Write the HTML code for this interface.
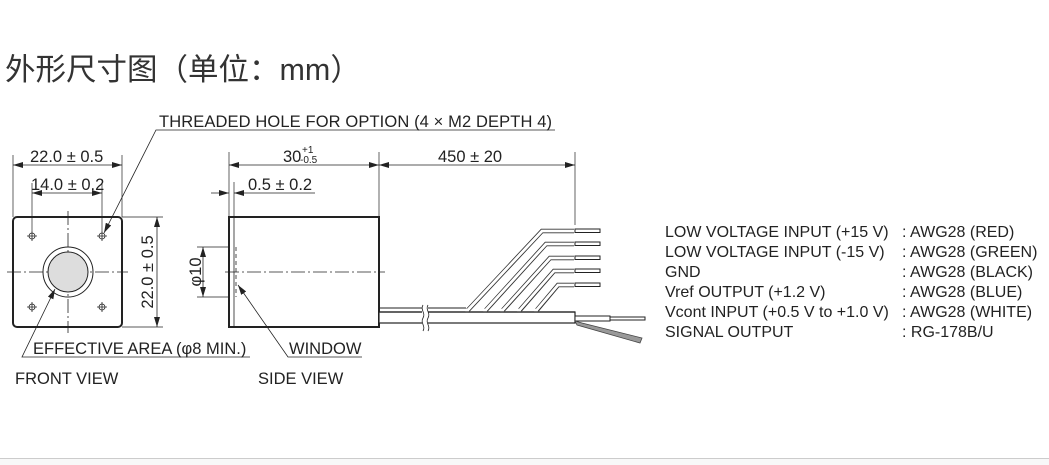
<!DOCTYPE html>
<html><head><meta charset="utf-8"><style>
body{margin:0;width:1049px;height:464px;background:#fff;overflow:hidden;position:relative;font-family:"Liberation Sans",Arial,sans-serif}
.t{position:absolute;left:5px;top:45px;font-size:30.5px;color:#333;font-family:"Liberation Sans","Noto Sans CJK SC",sans-serif;white-space:nowrap}
.bot{position:absolute;left:0;top:458px;width:1049px;height:6px;background:#f8f8f8;border-top:1px solid #ccc}
svg{position:absolute;left:0;top:0}
text{font-family:"Liberation Sans",Arial,sans-serif;fill:#222}
</style></head><body>
<div class="t">外形尺寸图（单位：mm）</div>
<svg width="1049" height="464" viewBox="0 0 1049 464">
<defs><marker id="a" viewBox="0 0 10 6" refX="10" refY="3" markerWidth="10" markerHeight="6" orient="auto-start-reverse" markerUnits="userSpaceOnUse"><path d="M0,0L10,3L0,6z" fill="#222"/></marker></defs>
<g stroke="#222" fill="none" stroke-width="1">
<rect x="13" y="217" width="109" height="110" rx="4" stroke-width="2"/>
<g stroke-dasharray="14,3,2,3" stroke-width="0.8"><line x1="7" y1="272" x2="128" y2="272"/><line x1="68" y1="211" x2="68" y2="333"/></g>
<circle cx="68" cy="272" r="25"/><circle cx="68" cy="272" r="20" fill="#ddd"/>
<g stroke-width="0.8"><circle cx="32" cy="236" r="3"/><circle cx="102" cy="236" r="3"/><circle cx="32" cy="307" r="3"/><circle cx="102" cy="307" r="3"/>
<path d="M27 236h10M32 231v10M97 236h10M102 231v10M27 307h10M32 302v10M97 307h10M102 302v10"/></g>
<g stroke-width="0.7"><line x1="13" y1="155" x2="13" y2="217"/><line x1="122" y1="155" x2="122" y2="217"/>
<line x1="32" y1="183" x2="32" y2="231"/><line x1="102" y1="183" x2="102" y2="231"/>
<line x1="122" y1="217" x2="163" y2="217"/><line x1="122" y1="327" x2="163" y2="327"/></g>
<line x1="13" y1="165" x2="122" y2="165" marker-start="url(#a)" marker-end="url(#a)" stroke-width="0.8"/>
<line x1="32" y1="193" x2="102" y2="193" marker-start="url(#a)" marker-end="url(#a)" stroke-width="0.8"/>
<line x1="157" y1="217" x2="157" y2="327" marker-start="url(#a)" marker-end="url(#a)" stroke-width="0.8"/>
<polyline points="555,130 156,130 104,233" marker-end="url(#a)" stroke-width="0.8"/>
<polyline points="250,357 22,357 55,289" marker-end="url(#a)" stroke-width="0.8"/>
<rect x="229" y="217" width="150" height="110" stroke-width="2"/>
<line x1="234" y1="217" x2="234" y2="327" stroke-width="0.8"/>
<line x1="236" y1="247" x2="236" y2="297" stroke-dasharray="4,3" stroke-width="0.8"/>
<line x1="225" y1="272" x2="385" y2="272" stroke-dasharray="14,3,2,3" stroke-width="0.8"/>
<g stroke-width="0.7"><line x1="229" y1="152" x2="229" y2="217"/><line x1="379" y1="152" x2="379" y2="217"/><line x1="575" y1="152" x2="575" y2="225"/>
<line x1="234" y1="182" x2="234" y2="217"/>
<line x1="197" y1="247" x2="229" y2="247"/><line x1="197" y1="297" x2="229" y2="297"/></g>
<line x1="229" y1="165" x2="379" y2="165" marker-start="url(#a)" marker-end="url(#a)" stroke-width="0.8"/>
<line x1="379" y1="165" x2="575" y2="165" marker-start="url(#a)" marker-end="url(#a)" stroke-width="0.8"/>
<line x1="211" y1="193" x2="229" y2="193" marker-end="url(#a)" stroke-width="0.8"/>
<line x1="315" y1="193" x2="234" y2="193" marker-end="url(#a)" stroke-width="0.8"/>
<line x1="203" y1="247" x2="203" y2="297" marker-start="url(#a)" marker-end="url(#a)" stroke-width="0.8"/>
<polyline points="362,357 288,357 238,285" marker-end="url(#a)" stroke-width="0.8"/>
<rect x="379" y="312" width="196" height="11" stroke-width="1.2" fill="#fff"/>
<line x1="379" y1="308" x2="466" y2="308" stroke-width="1"/>
<g stroke-width="4.5" stroke="#333" fill="none">
<polyline points="468,310 542,231 574,231"/><polyline points="486,310 546,244 574,244"/><polyline points="503,310 550,258 574,258"/><polyline points="520,310 554,271 574,271"/><polyline points="537,310 558,285 574,285"/></g>
<g stroke-width="2.8" stroke="#fff" fill="none">
<polyline points="466,312 542,231 575,231"/><polyline points="484,312 546,244 575,244"/><polyline points="501,312 550,258 575,258"/><polyline points="518,312 554,271 575,271"/><polyline points="535,312 558,285 575,285"/></g>
<line x1="379" y1="312" x2="575" y2="312" stroke-width="1.2"/>
<g stroke-width="1" fill="#fff"><rect x="575" y="229" width="25" height="3.5"/><rect x="575" y="242" width="25" height="3.5"/><rect x="575" y="256" width="25" height="3.5"/><rect x="575" y="269" width="25" height="3.5"/><rect x="575" y="283" width="25" height="3.5"/>
<rect x="575" y="316" width="35" height="5"/><rect x="610" y="317" width="35" height="3"/></g>
<polygon points="575,321 582,323 642,338 640,343 577,325" fill="#999" stroke="#444" stroke-width="0.8"/>
<rect x="422" y="305" width="6" height="22" fill="#fff" stroke="none"/>
<path d="M423 305c-3 5 3 8 0 13s3 8 0 13M428 305c-3 5 3 8 0 13s3 8 0 13" stroke-width="0.8"/>
</g>
<g font-size="16.5">
<text x="30" y="162">22.0 ± 0.5</text>
<text x="31" y="190">14.0 ± 0.2</text>
<text transform="translate(153,272) rotate(-90)" text-anchor="middle">22.0 ± 0.5</text>
<text x="159" y="127" textLength="393">THREADED HOLE FOR OPTION (4 × M2 DEPTH 4)</text>
<text x="33" y="354">EFFECTIVE AREA (φ8 MIN.)</text>
<text x="15" y="384">FRONT VIEW</text>
<text x="283" y="162">30</text><text x="302" y="153" font-size="10">+1</text><text x="300" y="163" font-size="10">-0.5</text>
<text x="248" y="190">0.5 ± 0.2</text>
<text transform="translate(201,272) rotate(-90)" text-anchor="middle">φ10</text>
<text x="289" y="354">WINDOW</text>
<text x="258" y="384">SIDE VIEW</text>
<text x="438" y="162">450 ± 20</text>
</g>
<g font-size="16">
<text x="665" y="237">LOW VOLTAGE INPUT (+15 V)</text><text x="902" y="237">: AWG28 (RED)</text>
<text x="665" y="257">LOW VOLTAGE INPUT (-15 V)</text><text x="902" y="257">: AWG28 (GREEN)</text>
<text x="665" y="277">GND</text><text x="902" y="277">: AWG28 (BLACK)</text>
<text x="665" y="297">Vref OUTPUT (+1.2 V)</text><text x="902" y="297">: AWG28 (BLUE)</text>
<text x="665" y="317">Vcont INPUT (+0.5 V to +1.0 V)</text><text x="902" y="317">: AWG28 (WHITE)</text>
<text x="665" y="337">SIGNAL OUTPUT</text><text x="902" y="337">: RG-178B/U</text>
</g>
</svg>
<div class="bot"></div>
</body></html>
